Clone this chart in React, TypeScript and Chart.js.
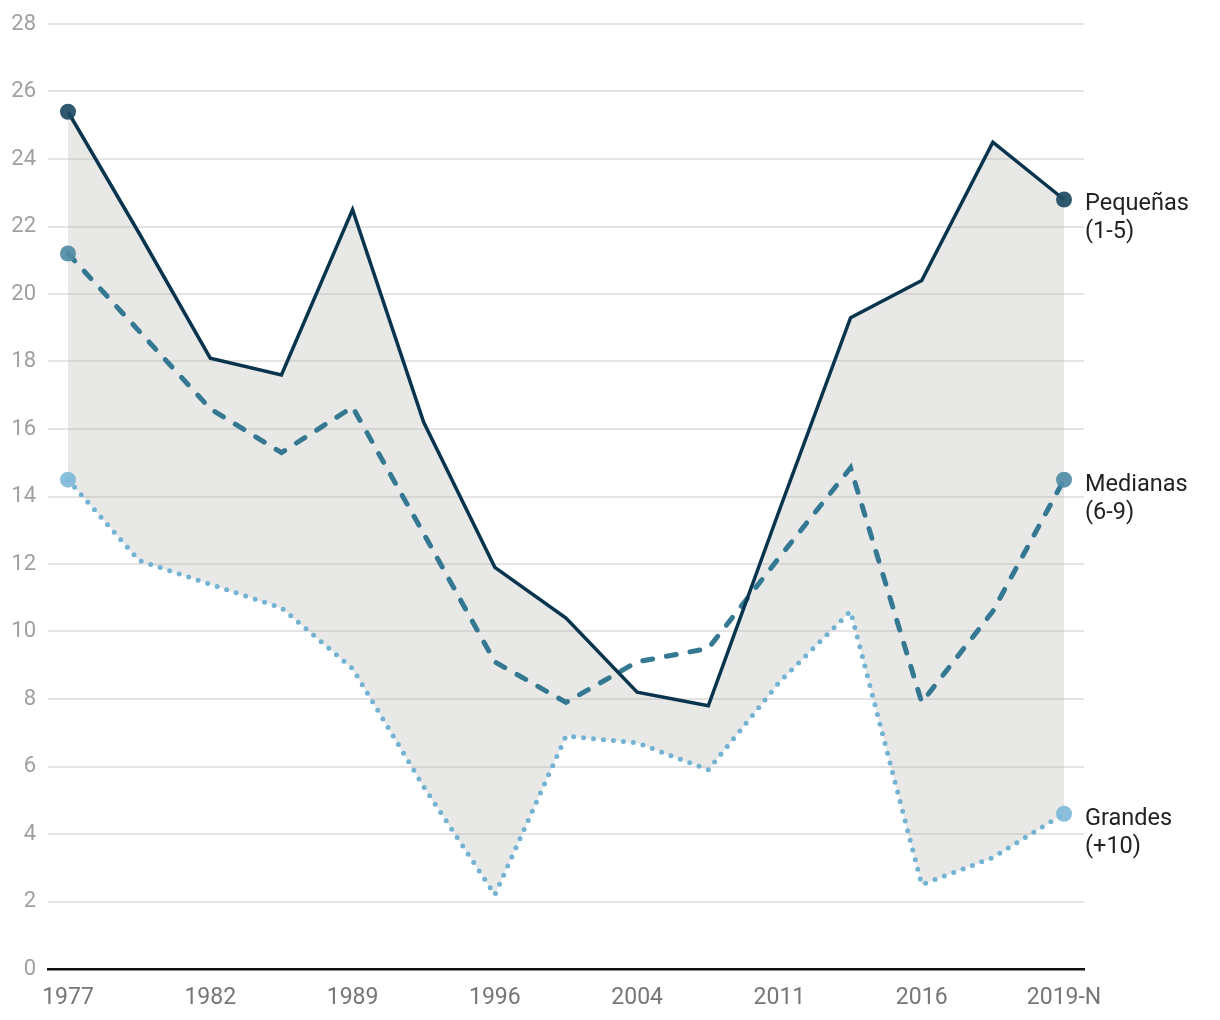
import React, { useEffect, useRef } from "react";
import { Chart, registerables } from "chart.js";

Chart.register(...registerables);

const categories = ["1977", "1979", "1982", "1986", "1989", "1993", "1996", "2000", "2004", "2008", "2011", "2015", "2016", "2019-A", "2019-N"];
const tickLabels = ["1977", "", "1982", "", "1989", "", "1996", "", "2004", "", "2011", "", "2016", "", "2019-N"];
const pequenas = [25.4, 21.8, 18.1, 17.6, 22.5, 16.2, 11.9, 10.4, 8.2, 7.8, 13.6, 19.3, 20.4, 24.5, 22.8];
const medianas = [21.2, 18.9, 16.6, 15.3, 16.65, 12.9, 9.1, 7.9, 9.1, 9.5, 12.2, 14.85, 7.9, 10.6, 14.5];
const grandes = [14.5, 12.1, 11.4, 10.7, 8.9, 5.4, 2.2, 6.9, 6.7, 5.9, 8.5, 10.6, 2.5, 3.3, 4.6];
const seriesLabels = [["Pequeñas", "(1-5)"], ["Medianas", "(6-9)"], ["Grandes", "(+10)"]];

const FONT = "Roboto, 'Noto Sans', sans-serif";

function endPoints(n: number, r: number) {
  return Array.from({ length: n }, (_, i) => (i === 0 || i === n - 1 ? r : 0));
}

const labelPlugin = {
  id: "endLabels",
  afterDatasetsDraw(chart: any) {
    const { ctx, scales } = chart;
    ctx.save();
    ctx.font = `23.5px ${FONT}`;
    ctx.fillStyle = "#222";
    ctx.textAlign = "left";
    ctx.textBaseline = "middle";
    const last = categories.length - 1;
    const vals = [pequenas[last], medianas[last], grandes[last]];
    vals.forEach((v, i) => {
      const x = scales.x.getPixelForValue(last) + 21;
      const y = scales.y.getPixelForValue(v) + 5;
      ctx.fillText(seriesLabels[i][0], x, y);
      ctx.fillText(seriesLabels[i][1], x, y + 28);
    });
    ctx.restore();
  },
};

export default function App() {
  const ref = useRef<HTMLCanvasElement>(null);
  useEffect(() => {
    if (!ref.current) return;
    const n = categories.length;
    const toXY = (arr: number[]) => arr.map((v, i) => ({ x: i, y: v }));
    const chart = new Chart(ref.current, {
      type: "line",
      data: {
        datasets: [
          {
            label: "Pequeñas (1-5)",
            data: toXY(pequenas),
            borderColor: "#08344e",
            borderWidth: 3.5,
            pointRadius: endPoints(n, 8),
            pointHoverRadius: endPoints(n, 8),
            pointBackgroundColor: "rgba(30,75,100,0.92)",
            pointBorderWidth: 0,
            fill: false,
            tension: 0,
          },
          {
            label: "Medianas (6-9)",
            data: toXY(medianas),
            borderColor: "#347892",
            borderWidth: 5,
            borderDash: [10, 14],
            borderCapStyle: "round",
            pointRadius: endPoints(n, 8),
            pointHoverRadius: endPoints(n, 8),
            pointBackgroundColor: "rgba(80,140,165,0.92)",
            pointBorderWidth: 0,
            fill: false,
            tension: 0,
          },
          {
            label: "Grandes (+10)",
            data: toXY(grandes),
            borderColor: "#72b3d4",
            borderWidth: 5,
            borderDash: [0, 10],
            borderCapStyle: "round",
            pointRadius: endPoints(n, 8),
            pointHoverRadius: endPoints(n, 8),
            pointBackgroundColor: "rgba(125,185,215,0.9)",
            pointBorderWidth: 0,
            fill: { target: 0 },
            backgroundColor: "rgba(185,185,178,0.32)",
            tension: 0,
          },
        ],
      },
      options: {
        animation: false,
        responsive: false,
        maintainAspectRatio: false,
        layout: { padding: { left: 0, right: 128, top: 16, bottom: 0 } },
        plugins: {
          legend: { display: false },
          tooltip: { enabled: false },
        },
        scales: {
          x: {
            type: "linear",
            min: -0.281,
            max: n - 1 + 0.281,
            afterBuildTicks: (scale: any) => {
              scale.ticks = categories.map((_, i) => ({ value: i }));
            },
            afterFit: (scale: any) => {
              scale.height = 43;
              scale.paddingLeft = 0;
              scale.paddingRight = 0;
            },
            ticks: {
              autoSkip: false,
              maxRotation: 0,
              padding: 15,
              color: "#767676",
              font: { family: FONT, size: 23 },
              callback: (v: any) => tickLabels[v as number] ?? "",
            },
            grid: { display: false, drawTicks: false },
            border: { display: true, color: "#111", width: 2.5 },
          },
          y: {
            type: "linear",
            min: 0,
            max: 28,
            afterFit: (scale: any) => {
              scale.width = 40;
              scale.paddingTop = 0;
              scale.paddingBottom = 0;
            },
            ticks: {
              stepSize: 2,
              padding: 12,
              color: "#a0a0a0",
              font: { family: FONT, size: 22 },
            },
            grid: { color: "#e4e4e4", lineWidth: 2, drawTicks: false },
            border: { display: false },
          },
        },
      },
      plugins: [labelPlugin],
    });
    return () => chart.destroy();
  }, []);
  return (
    <div style={{ width: 1204, height: 1004 }}>
      <canvas ref={ref} width={1204} height={1004} style={{ width: 1204, height: 1004 }} />
    </div>
  );
}
